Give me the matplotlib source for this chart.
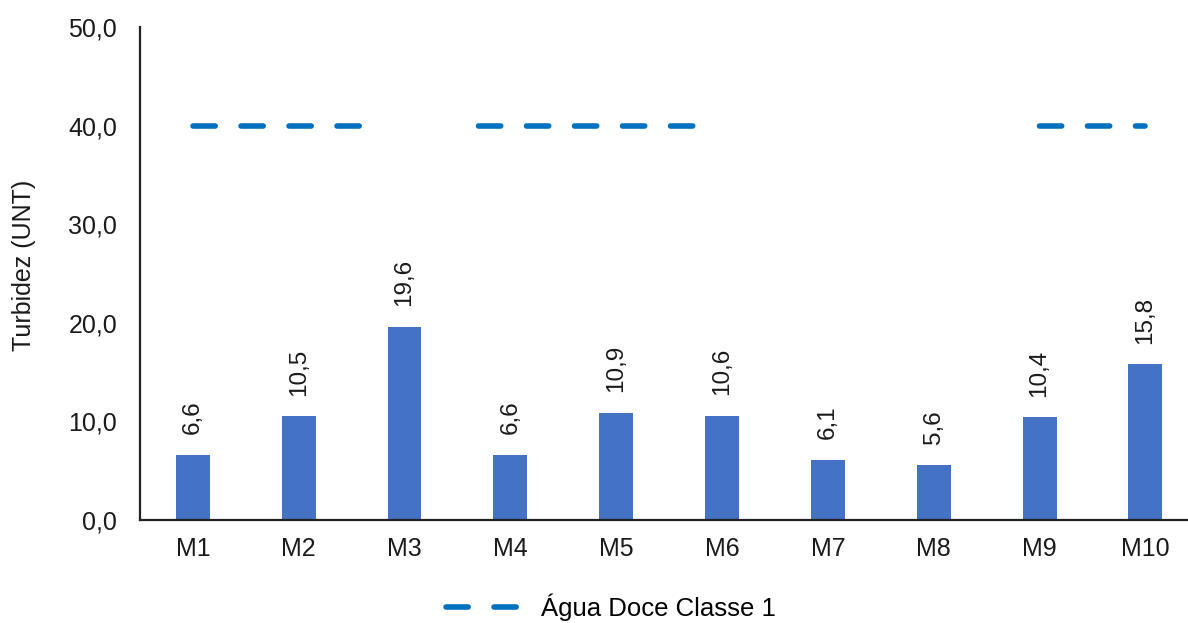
import numpy as np
import matplotlib
matplotlib.use('Agg')
from matplotlib import pyplot as plt
from matplotlib.lines import Line2D

# data
categorias = ['M1', 'M2', 'M3', 'M4', 'M5', 'M6', 'M7', 'M8', 'M9', 'M10']
turbidez = [6.6, 10.5, 19.6, 6.6, 10.9, 10.6, 6.1, 5.6, 10.4, 15.8]
limite_classe1 = [40.0] * len(categorias)
yticks = [0, 10, 20, 30, 40, 50]

plt.rcParams['font.family'] = ['Liberation Sans', 'DejaVu Sans']
plt.rcParams['lines.scale_dashes'] = False

fig = plt.figure(figsize=(11.88, 6.23), dpi=100)
ax = fig.add_axes([0.1178, 0.1653, 0.882, 0.7913])

x = np.arange(len(categorias))
ax.bar(x, turbidez, width=0.32, color='#4472C4', zorder=2)

# dash pattern (px -> pt) reproducing the broken dashed line of the original
px = 72 / 100
lw = 4.0
dash_px = [22.2, 25.8, 22.2, 25.8, 22.2, 25.8, 22.2, 119.3,
           22.2, 25.8, 22.2, 25.8, 22.2, 25.8, 22.2, 25.8, 22.2, 346.8,
           22.2, 25.8, 22.2, 25.8, 22.2, 300]
line, = ax.plot(x, limite_classe1, color='#0070C0', linewidth=lw,
                dash_capstyle='round', label='Água Doce Classe 1', zorder=3)
line.set_dashes([d * px for d in dash_px])

for xi, v in zip(x, turbidez):
    ax.text(xi, v + 2.1, f'{v:.1f}'.replace('.', ','), rotation=90,
            ha='center', va='bottom', fontsize=17.5, color='#1a1a1a')

ax.set_xlim(-0.5, 9.4)
ax.set_ylim(0, 50)
ax.set_yticks(yticks)
ax.set_yticklabels([f'{t:.1f}'.replace('.', ',') for t in yticks], fontsize=18)
ax.set_xticks(x)
ax.set_xticklabels(categorias, fontsize=18)
ax.tick_params(axis='both', length=0, colors='#1a1a1a')
ax.tick_params(axis='y', pad=16.5)
ax.tick_params(axis='x', pad=12)
ax.set_ylabel('Turbidez (UNT)', fontsize=18, color='#1a1a1a')
ax.yaxis.set_label_coords(-0.099, 0.517)

for s in ['top', 'right']:
    ax.spines[s].set_visible(False)
for s in ['left', 'bottom']:
    ax.spines[s].set_linewidth(1.6)
    ax.spines[s].set_color('#222222')

handle = Line2D([0], [0], color='#0070C0', linewidth=lw, dash_capstyle='round')
handle.set_dashes([22.2 * px, 25.8 * px])
fig.legend([handle], ['Água Doce Classe 1'], loc='center', bbox_to_anchor=(0.514, 0.026),
           frameon=False, fontsize=18.5, handlelength=3.0, handletextpad=0.7)

fig.savefig('out.png', dpi=100)
